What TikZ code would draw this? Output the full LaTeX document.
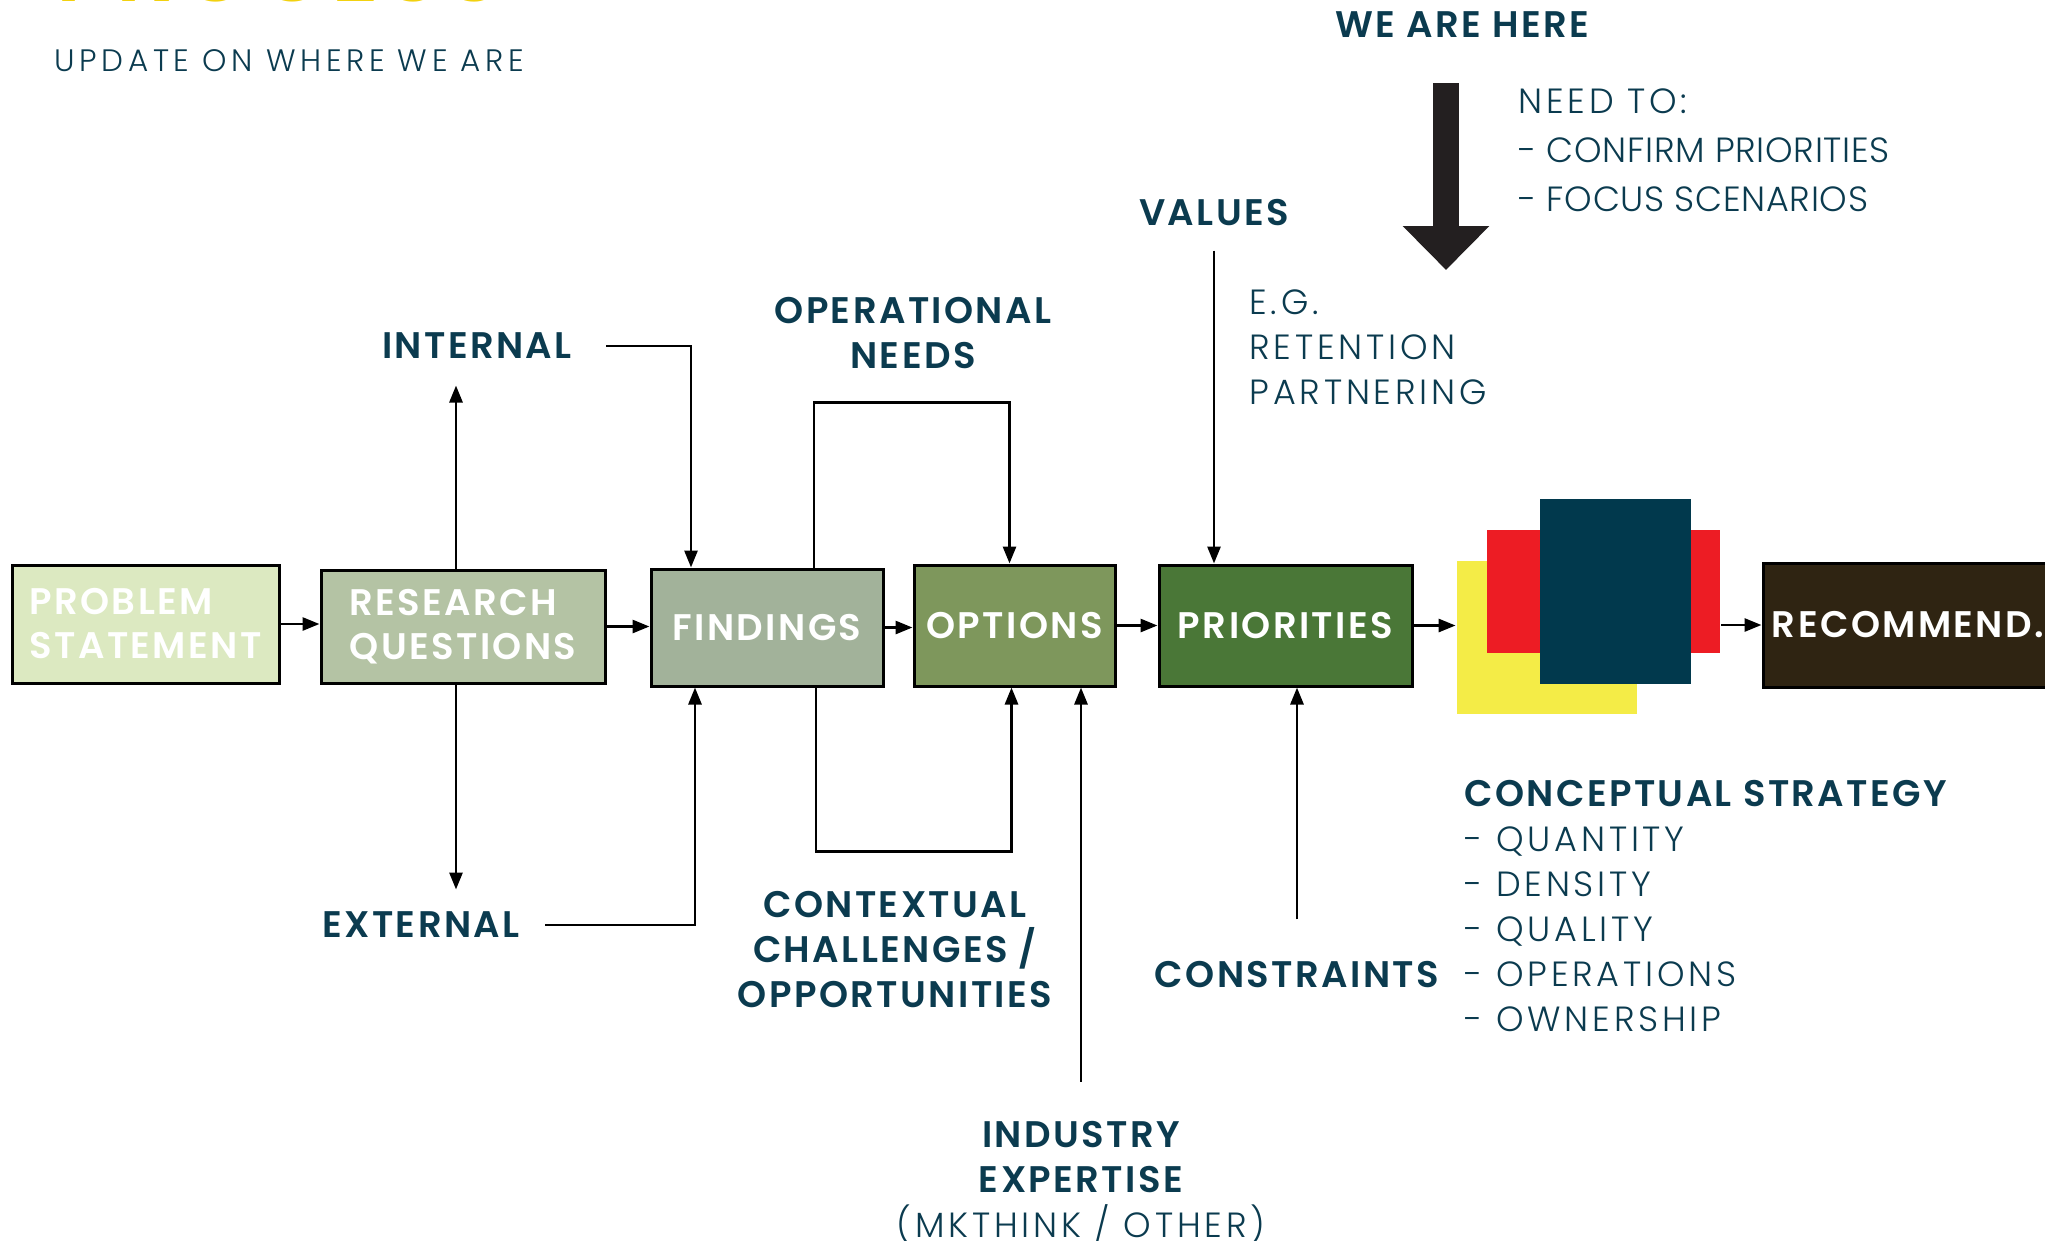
\documentclass[tikz,border=0pt]{standalone}
\usepackage{fontspec}
\setmainfont{Poppins}
\IfFontExistsTF{Poppins SemiBold}
  {\newfontfamily\headfont{Poppins}[LetterSpace=6.5, BoldFont={Poppins SemiBold}]}
  {\newfontfamily\headfont{Poppins}[LetterSpace=5.5]}
\IfFontExistsTF{Poppins Light}
  {\newfontfamily\lightfont{Poppins Light}[LetterSpace=11]}
  {\IfFontExistsTF{Poppins-Light}
    {\newfontfamily\lightfont{Poppins-Light}[LetterSpace=11]}
    {\IfFontExistsTF{Lato Light}
      {\newfontfamily\lightfont{Lato Light}[LetterSpace=11]}
      {\newfontfamily\lightfont{Poppins}[LetterSpace=11]}}}
\usetikzlibrary{arrows.meta}

\definecolor{ink}{HTML}{0B3B4F}
\definecolor{probfill}{HTML}{DCE9C1}
\definecolor{resfill}{HTML}{B4C3A4}
\definecolor{findfill}{HTML}{A2B29A}
\definecolor{optfill}{HTML}{7E975C}
\definecolor{priofill}{HTML}{4A7737}
\definecolor{recfill}{HTML}{2F2412}
\definecolor{stackyellow}{HTML}{F4EC47}
\definecolor{stackred}{HTML}{ED1C24}
\definecolor{stackblue}{HTML}{01394D}
\definecolor{herearrow}{HTML}{231F20}
\definecolor{titleyellow}{HTML}{F2D10F}

\tikzset{
  stage/.style={draw=black, line width=3pt, text=white, inner sep=0pt, align=left,
    font=\fontsize{37}{44}\selectfont\headfont\bfseries},
  lbl/.style={text=ink, inner sep=0pt, align=center, font=\fontsize{37}{45}\selectfont\headfont\bfseries},
  note/.style={text=ink, inner sep=0pt, align=left, font=\fontsize{35}{45}\selectfont\lightfont},
  sheet/.style={draw=none, inner sep=0pt},
}

\begin{document}
\begin{tikzpicture}[x=1pt, y=-1pt, line width=2.8pt, >={Triangle[length=17pt,width=13pt]}]
  \useasboundingbox (0,0) rectangle (2045,1240);

  % heading
  \node[anchor=base west, inner sep=0pt, text=titleyellow, font=\fontsize{90}{90}\selectfont\headfont\bfseries] (title) at (55,1.5) {PROCESS};
  \node[note, anchor=west, font=\fontsize{31}{38}\selectfont\lightfont\addfontfeature{LetterSpace=15}] (update) at (53,61) {UPDATE ON WHERE WE ARE};

  % stages
  \node[stage, fill=probfill, minimum width=267pt, minimum height=118pt] (prob) at (145.5,624) {PROBLEM\\STATEMENT};
  \node[stage, fill=resfill, minimum width=284pt, minimum height=113pt] (res) at (463,626.5) {RESEARCH\\QUESTIONS};
  \node[stage, fill=findfill, minimum width=232pt, minimum height=117pt] (find) at (767,627.5) {FINDINGS};
  \node[stage, fill=optfill, minimum width=201pt, minimum height=121pt] (opt) at (1014.5,625.5) {OPTIONS};
  \node[stage, fill=priofill, minimum width=253pt, minimum height=121pt] (prio) at (1285.5,625.5) {PRIORITIES};

  % conceptual strategy stack
  \node[sheet, fill=stackyellow, minimum width=180pt, minimum height=153pt] (yel) at (1547,637.5) {};
  \node[sheet, fill=stackred, minimum width=233pt, minimum height=123pt] (red) at (1603.5,591.5) {};
  \node[sheet, fill=stackblue, minimum width=151pt, minimum height=185pt] (blue) at (1615.5,591.5) {};

  \node[stage, fill=recfill, minimum width=290pt, minimum height=124pt] (rec) at (1908,625) {RECOMMEND.};

  % labels
  \node[lbl] (here) at (1462,25) {WE ARE HERE};
  \node[lbl] (values) at (1214,213) {VALUES};
  \node[lbl] (internal) at (477,346) {INTERNAL};
  \node[lbl] (external) at (421,925) {EXTERNAL};
  \node[lbl] (opneeds) at (913,333) {OPERATIONAL\\NEEDS};
  \node[lbl] (context) at (895,950) {CONTEXTUAL\\CHALLENGES /\\OPPORTUNITIES};
  \node[lbl] (constr) at (1297,975) {CONSTRAINTS};
  \node[lbl, anchor=north] (industry) at (1081,1119.5) {INDUSTRY\\EXPERTISE\\{\mdseries\lightfont\fontsize{35}{45}\selectfont (MKTHINK / OTHER)}};
  \node[lbl, anchor=west] (concept) at (1463,794) {CONCEPTUAL STRATEGY};
  \node[note, anchor=north west] (conlist) at (1463,825.5) {- QUANTITY\\- DENSITY\\- QUALITY\\- OPERATIONS\\- OWNERSHIP};
  \node[note, anchor=north west] (eg) at (1248,288.5) {E.G.\\RETENTION\\PARTNERING};
  \node[note, anchor=north west, font=\fontsize{35}{49}\selectfont\lightfont] (needto) at (1517,87.5)
    {NEED TO:\\{\addfontfeature{LetterSpace=2}- CONFIRM PRIORITIES}\\{\addfontfeature{LetterSpace=2}- FOCUS SCENARIOS}};

  % we are here
  \draw[herearrow, line width=26pt, -{Triangle[length=44pt,width=84pt]}] (1446,83) -- (1446,270);

  % main flow
  \draw[->] (prob.east) -- (prob.east -| res.west);
  \draw[->] (res.east) -- (res.east -| find.west);
  \draw[->] (find.east) -- (find.east -| opt.west);
  \draw[->] (opt.east) -- (opt.east -| prio.west);
  \draw[->] (prio.east) -- (prio.east -| yel.west);
  \draw[->] (red.east |- rec.west) -- (rec.west);

  % research questions split
  \draw[->] ([xshift=-7pt]res.north) -- ++(0,-183);
  \draw[->] ([xshift=-7pt]res.south) -- ++(0,205);

  % sources into findings
  \draw[->] ([xshift=33pt]internal.east) -| ([xshift=-76pt]find.north);
  \draw[->] ([xshift=24pt]external.east) -| ([xshift=-72pt]find.south);

  % loops findings -> options
  \draw[->] ([xshift=47pt]find.north) -- ++(0,-165) -| ([xshift=-5pt]opt.north);
  \draw[->] ([xshift=49pt]find.south) -- ++(0,164) -| ([xshift=-3pt]opt.south);

  % inputs from above and below
  \draw[->] ([yshift=-23pt]values.south) -- (values.south |- prio.north);
  \draw[->] ([yshift=38pt]industry.north) -- (industry.north |- opt.south);
  \draw[->] ([yshift=41pt]constr.north) -- (constr.north |- prio.south);
\end{tikzpicture}
\end{document}
